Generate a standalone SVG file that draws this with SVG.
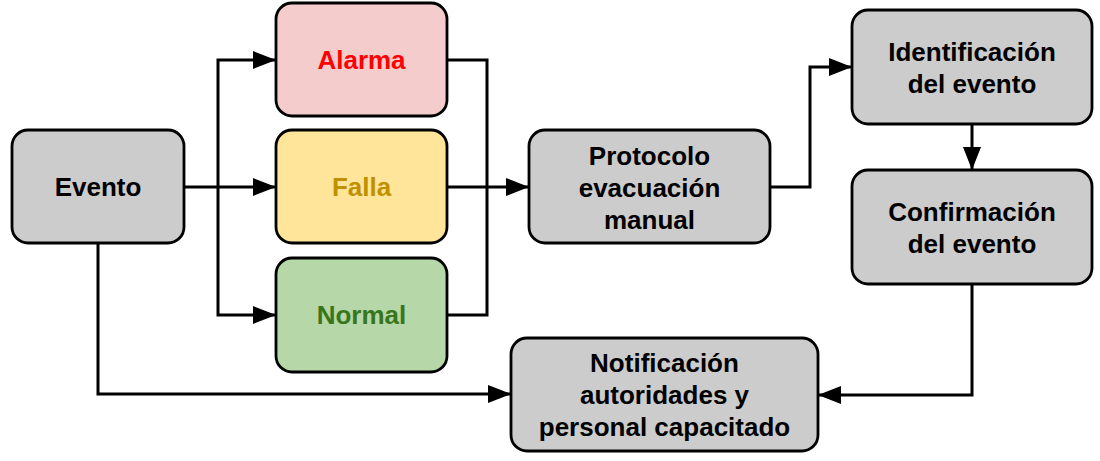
<svg xmlns="http://www.w3.org/2000/svg" width="1100" height="461" viewBox="0 0 1100 461">
<style>
.box{stroke:#000;stroke-width:2.8}
.gray{fill:#cccccc}
.t{font-family:"Liberation Sans",Arial,sans-serif;font-weight:bold;font-size:26px;text-anchor:middle;fill:#000}
.c{fill:none;stroke:#000;stroke-width:3}
</style>
<defs>
<marker id="ah" viewBox="0 0 23 18" refX="23" refY="9" markerWidth="23" markerHeight="18" markerUnits="userSpaceOnUse" orient="auto">
<path d="M0,0 L23,9 L0,18 Z" fill="#000"/>
</marker>
</defs>
<rect width="1100" height="461" fill="#fff"/>
<g id="connectors">
<path class="c" d="M184,187 H276" marker-end="url(#ah)"/>
<path class="c" d="M218,187 V60 H276" marker-end="url(#ah)"/>
<path class="c" d="M218,187 V315 H276" marker-end="url(#ah)"/>
<path class="c" d="M447,60 H487 V315 H447"/>
<path class="c" d="M447,187 H529" marker-end="url(#ah)"/>
<path class="c" d="M770,187 H810 V67 H852" marker-end="url(#ah)"/>
<path class="c" d="M972,124 V170" marker-end="url(#ah)"/>
<path class="c" d="M972,284 V395 H818" marker-end="url(#ah)"/>
<path class="c" d="M98,243 V394 H511" marker-end="url(#ah)"/>
</g>
<g id="evento">
<rect class="box gray" x="12" y="130" width="172" height="113" rx="16"/>
<text class="t" x="98" y="196">Evento</text>
</g>
<g id="alarma">
<rect class="box" fill="#f4cccc" x="276" y="3" width="171" height="113" rx="16"/>
<text class="t" x="361.5" y="69" style="fill:#ff0000">Alarma</text>
</g>
<g id="falla">
<rect class="box" fill="#ffe599" x="276" y="130" width="171" height="113" rx="16"/>
<text class="t" x="361.5" y="196" style="fill:#bf9000">Falla</text>
</g>
<g id="normal">
<rect class="box" fill="#b6d7a8" x="276" y="258" width="171" height="114" rx="16"/>
<text class="t" x="361.5" y="324" style="fill:#38761d">Normal</text>
</g>
<g id="protocolo">
<rect class="box gray" x="529" y="130" width="241" height="113" rx="16"/>
<text class="t" x="649.5" y="165">Protocolo</text>
<text class="t" x="649.5" y="197">evacuación</text>
<text class="t" x="649.5" y="229">manual</text>
</g>
<g id="identificacion">
<rect class="box gray" x="852" y="10" width="240" height="114" rx="16"/>
<text class="t" x="972" y="61">Identificación</text>
<text class="t" x="972" y="93">del evento</text>
</g>
<g id="confirmacion">
<rect class="box gray" x="852" y="170" width="240" height="114" rx="16"/>
<text class="t" x="972" y="221">Confirmación</text>
<text class="t" x="972" y="253">del evento</text>
</g>
<g id="notificacion">
<rect class="box gray" x="511" y="338" width="307" height="113" rx="16"/>
<text class="t" x="664.5" y="372">Notificación</text>
<text class="t" x="664.5" y="404">autoridades y</text>
<text class="t" x="664.5" y="436">personal capacitado</text>
</g>
</svg>
